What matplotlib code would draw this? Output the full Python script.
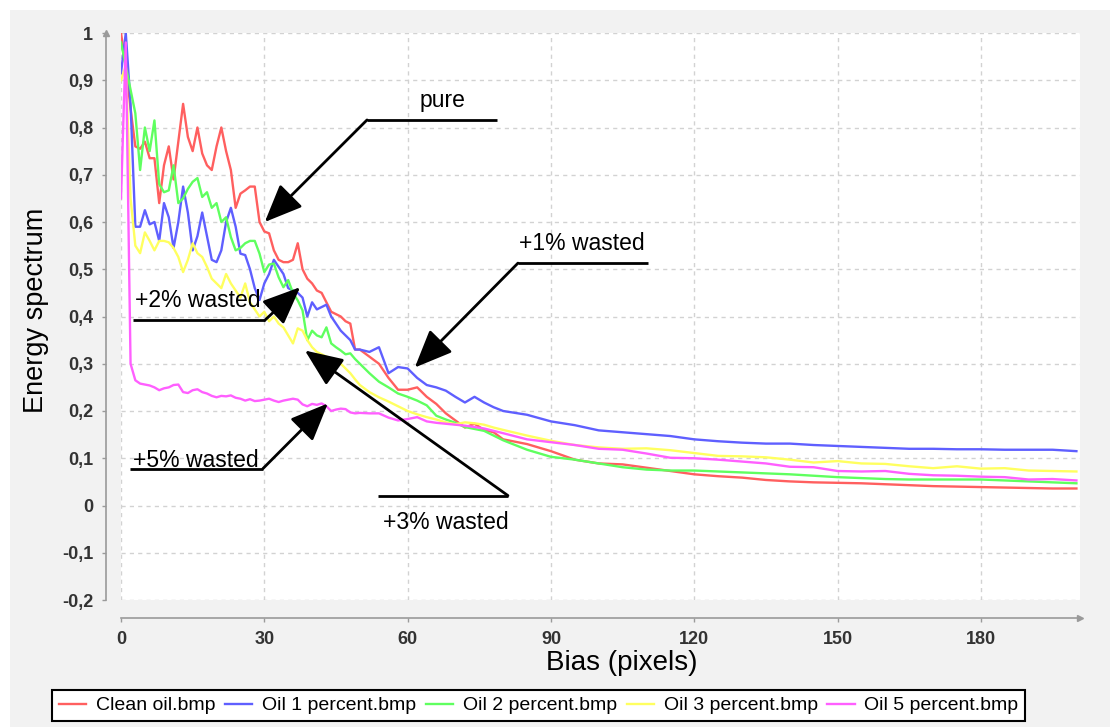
import numpy as np
import matplotlib.pyplot as plt
from matplotlib.patches import Rectangle
from matplotlib import transforms

plt.rcParams['font.family'] = ['Liberation Sans', 'DejaVu Sans']

# bias values (pixels)
bias = list(range(0, 51)) + list(range(52, 81, 2)) + list(range(85, 201, 5))

clean = [1.00, 0.93, 0.84, 0.76, 0.755, 0.77, 0.735, 0.735, 0.64, 0.72,
         0.76, 0.69, 0.77, 0.85, 0.78, 0.75, 0.80, 0.745, 0.72, 0.71,
         0.76, 0.80, 0.75, 0.71, 0.63, 0.66, 0.667, 0.675, 0.675, 0.60,
         0.58, 0.576, 0.54, 0.52, 0.515, 0.515, 0.52, 0.555, 0.50, 0.48,
         0.47, 0.455, 0.45, 0.43, 0.41, 0.405, 0.40, 0.39, 0.385, 0.33, 0.33,
         0.315, 0.30, 0.27, 0.245, 0.245, 0.25, 0.23, 0.215, 0.195, 0.18, 0.165, 0.173, 0.16, 0.155, 0.14,
         0.13, 0.115, 0.097, 0.089, 0.087, 0.08, 0.073, 0.066, 0.062, 0.059, 0.054, 0.051,
         0.049, 0.048, 0.047, 0.045, 0.043, 0.041, 0.040, 0.039, 0.038, 0.037, 0.036, 0.036]

oil1 = [0.915, 1.0, 0.85, 0.59, 0.59, 0.625, 0.595, 0.60, 0.56, 0.64,
        0.61, 0.545, 0.60, 0.675, 0.62, 0.54, 0.57, 0.62, 0.57, 0.52,
        0.515, 0.54, 0.60, 0.63, 0.59, 0.533, 0.53, 0.50, 0.46, 0.435,
        0.47, 0.49, 0.52, 0.505, 0.49, 0.46, 0.455, 0.45, 0.44, 0.40,
        0.43, 0.415, 0.42, 0.425, 0.40, 0.385, 0.37, 0.36, 0.35, 0.33, 0.33,
        0.325, 0.335, 0.28, 0.293, 0.29, 0.27, 0.255, 0.25, 0.243, 0.23, 0.218, 0.23, 0.218, 0.208, 0.20,
        0.192, 0.178, 0.17, 0.159, 0.155, 0.151, 0.147, 0.14, 0.136, 0.133, 0.131, 0.131,
        0.128, 0.126, 0.124, 0.122, 0.12, 0.12, 0.119, 0.119, 0.118, 0.118, 0.118, 0.115]

oil2 = [0.98, 0.93, 0.88, 0.83, 0.71, 0.80, 0.75, 0.815, 0.68, 0.663,
        0.667, 0.72, 0.64, 0.65, 0.67, 0.685, 0.693, 0.653, 0.663, 0.63,
        0.64, 0.60, 0.61, 0.568, 0.54, 0.545, 0.555, 0.56, 0.56, 0.533,
        0.494, 0.51, 0.512, 0.483, 0.462, 0.477, 0.45, 0.434, 0.413, 0.35,
        0.37, 0.36, 0.356, 0.377, 0.343, 0.335, 0.328, 0.32, 0.322, 0.31, 0.30,
        0.28, 0.262, 0.25, 0.237, 0.23, 0.222, 0.212, 0.19, 0.182, 0.175, 0.166, 0.162, 0.158, 0.148, 0.138,
        0.118, 0.103, 0.097, 0.089, 0.081, 0.076, 0.074, 0.074, 0.072, 0.07, 0.068, 0.066,
        0.063, 0.06, 0.058, 0.056, 0.055, 0.055, 0.055, 0.055, 0.053, 0.051, 0.049, 0.047]

oil3 = [0.90, 0.93, 0.65, 0.55, 0.534, 0.578, 0.56, 0.54, 0.56, 0.56,
        0.557, 0.545, 0.526, 0.494, 0.52, 0.555, 0.534, 0.526, 0.505, 0.48,
        0.47, 0.46, 0.49, 0.47, 0.455, 0.44, 0.47, 0.43, 0.415, 0.40,
        0.41, 0.39, 0.40, 0.385, 0.377, 0.36, 0.343, 0.375, 0.37, 0.35,
        0.335, 0.325, 0.32, 0.315, 0.31, 0.307, 0.30, 0.29, 0.28, 0.267, 0.255,
        0.24, 0.229, 0.22, 0.21, 0.20, 0.193, 0.187, 0.182, 0.176, 0.172, 0.176, 0.174, 0.171, 0.165, 0.16,
        0.148, 0.137, 0.128, 0.123, 0.12, 0.121, 0.117, 0.111, 0.105, 0.104, 0.102, 0.097,
        0.091, 0.094, 0.089, 0.088, 0.083, 0.079, 0.083, 0.078, 0.079, 0.074, 0.073, 0.072]

oil5 = [0.65, 0.98, 0.30, 0.265, 0.258, 0.256, 0.254, 0.25, 0.244, 0.248,
        0.25, 0.255, 0.256, 0.24, 0.238, 0.244, 0.246, 0.24, 0.237, 0.232,
        0.229, 0.232, 0.231, 0.233, 0.228, 0.226, 0.222, 0.225, 0.221, 0.222,
        0.224, 0.226, 0.222, 0.219, 0.222, 0.224, 0.226, 0.224, 0.214, 0.21,
        0.215, 0.213, 0.216, 0.21, 0.20, 0.203, 0.205, 0.204, 0.197, 0.195, 0.196,
        0.195, 0.195, 0.186, 0.18, 0.183, 0.187, 0.178, 0.175, 0.173, 0.171, 0.169, 0.166, 0.163, 0.158, 0.153,
        0.14, 0.134, 0.128, 0.12, 0.118, 0.11, 0.101, 0.10, 0.097, 0.093, 0.089, 0.082,
        0.081, 0.073, 0.072, 0.073, 0.067, 0.064, 0.063, 0.061, 0.06, 0.055, 0.056, 0.053]

series = [clean, oil1, oil2, oil3, oil5]
names = ['Clean oil.bmp', 'Oil 1 percent.bmp', 'Oil 2 percent.bmp',
         'Oil 3 percent.bmp', 'Oil 5 percent.bmp']
colors = ['#ff5f5f', '#5f5fff', '#5fff5f', '#ffff5f', '#ff5fff']

xticks = [0, 30, 60, 90, 120, 150, 180]
yticks = [-0.2, -0.1, 0, 0.1, 0.2, 0.3, 0.4, 0.5, 0.6, 0.7, 0.8, 0.9, 1]
ytick_labels = ['-0,2', '-0,1', '0', '0,1', '0,2', '0,3', '0,4', '0,5',
                '0,6', '0,7', '0,8', '0,9', '1']

# label, text pos, line start, elbow, arrow tip, text alignment
notes = [
    ('pure', (67.2, 0.858), (78.7, 0.816), (51.5, 0.816), (30.1, 0.60), 'center'),
    ('+1% wasted', (96.5, 0.555), (110.3, 0.513), (83.1, 0.513), (61.5, 0.292), 'center'),
    ('+2% wasted', (2.9, 0.434), (2.5, 0.392), (30.1, 0.392), (37.5, 0.462), 'left'),
    ('+5% wasted', (2.5, 0.095), (1.9, 0.078), (29.7, 0.078), (43.3, 0.216), 'left'),
    ('+3% wasted', (68.0, -0.036), (53.8, 0.021), (81.0, 0.021), (38.5, 0.328), 'center'),
]

W, H = 1114, 727
fig = plt.figure(figsize=(W / 100, H / 100), dpi=100)
fig.patch.set_facecolor('white')
fig.add_artist(Rectangle((10 / W, 0), 1100 / W, 1 - 10 / H, transform=fig.transFigure,
                         facecolor='#f2f2f2', edgecolor='none', zorder=0))

ax = fig.add_axes([121 / W, 1 - 600 / H, (1080 - 121) / W, (600 - 33) / H])
ax.set_facecolor('white')

for vals, name, c in zip(series, names, colors):
    ax.plot(bias, vals, color=c, lw=1.7, label=name)

ax.set_xlim(0, 200.75)
ax.set_ylim(-0.2, 1.0)
ax.set_xticks(xticks)
ax.set_yticks(yticks)
ax.set_yticklabels(ytick_labels)
ax.grid(True, color='#d2d2d2', lw=1, ls=(0, (3, 3)))

for s in ['top', 'right']:
    ax.spines[s].set_visible(False)
ax.spines['left'].set_position(('outward', 11))
ax.spines['bottom'].set_position(('outward', 13))
for s in ['left', 'bottom']:
    ax.spines[s].set_color('#9a9a9a')
    ax.spines[s].set_linewidth(1.2)
ax.tick_params(colors='#9a9a9a', length=3, width=1, labelcolor='#333333', labelsize=13)
ax.tick_params(axis='y', pad=6)
ax.tick_params(axis='x', pad=6)
for t in ax.get_xticklabels() + ax.get_yticklabels():
    t.set_fontweight('bold')

# small arrow heads at ends of the axis lines
up = transforms.offset_copy(ax.transAxes, fig=fig, x=-15, y=0, units='dots')
ax.plot([0], [1], marker='^', ms=5, color='#9a9a9a', transform=up, clip_on=False)
right = transforms.offset_copy(ax.transAxes, fig=fig, x=0, y=-18, units='dots')
ax.plot([1], [0], marker='>', ms=5, color='#9a9a9a', transform=right, clip_on=False)

ax.set_xlabel('Bias (pixels)', fontsize=20)
ax.xaxis.set_label_coords(0.522, -0.088)
ax.set_ylabel('Energy spectrum', fontsize=19.5)
ax.yaxis.set_label_coords(-0.075, 0.51)

for label, txt, p0, p1, tip, ha in notes:
    ax.text(txt[0], txt[1], label, fontsize=16.5, ha=ha, va='center', color='black')
    ax.plot([p0[0], p1[0]], [p0[1], p1[1]], color='black', lw=2, solid_capstyle='butt')
    ax.annotate('', xy=tip, xytext=p1,
                arrowprops=dict(arrowstyle='-|>,head_length=1.3,head_width=0.55',
                                mutation_scale=18, color='black', lw=2,
                                shrinkA=0, shrinkB=0))

leg = fig.legend(loc='upper left', bbox_to_anchor=(52 / W, 1 - 690 / H), ncol=5,
                 fontsize=14, handlelength=1.4, handletextpad=0.5, columnspacing=0.5,
                 borderpad=0.35, borderaxespad=0, fancybox=False, framealpha=1,
                 edgecolor='black')
leg.get_frame().set_linewidth(1.5)

fig.savefig('out.png', dpi=100, facecolor=fig.get_facecolor())
